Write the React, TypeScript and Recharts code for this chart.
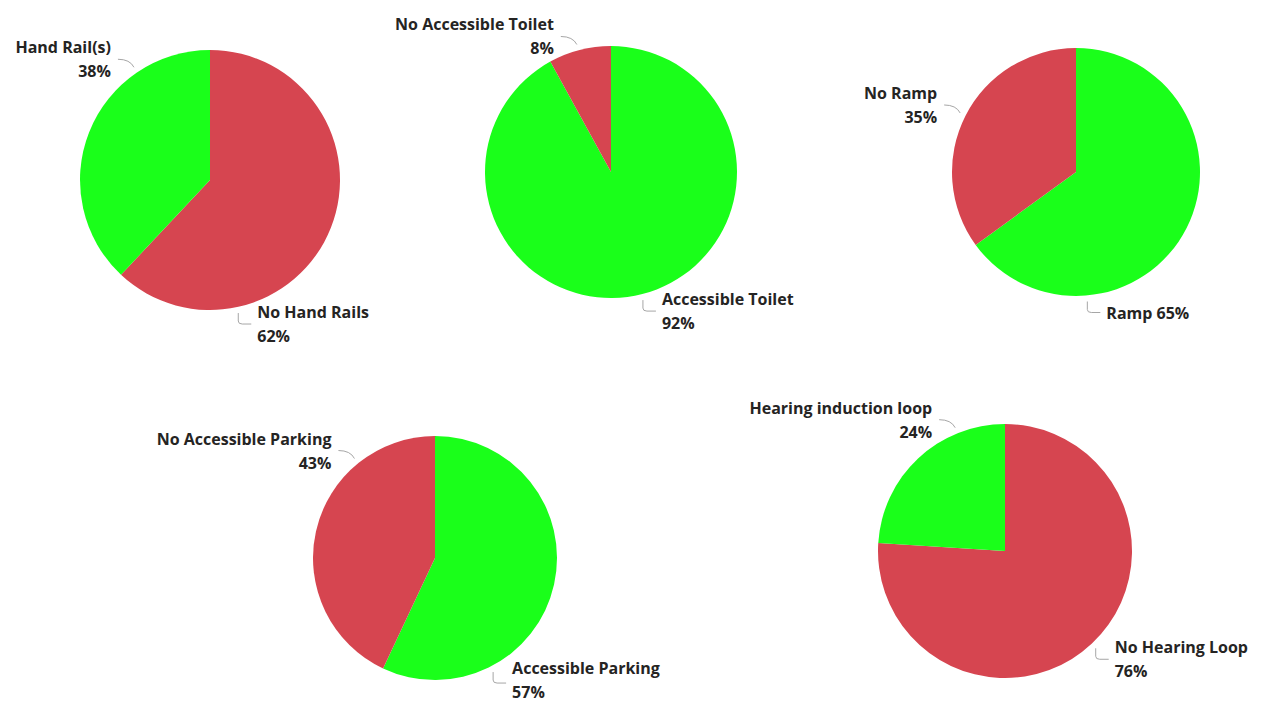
import React from "react";
import { Cell, Pie, PieChart } from "recharts";

// values
const handRailNames = ["No Hand Rails", "Hand Rail(s)"];
const handRailValues = [62, 38];

const toiletNames = ["Accessible Toilet", "No Accessible Toilet"];
const toiletValues = [92, 8];

const rampNames = ["Ramp", "No Ramp"];
const rampValues = [65, 35];

const parkingNames = ["Accessible Parking", "No Accessible Parking"];
const parkingValues = [57, 43];

const loopNames = ["No Hearing Loop", "Hearing induction loop"];
const loopValues = [76, 24];

const GREEN = "#1aff1a";
const RED = "#d64550";
const TEXT = "#252423";
const LINE = "#a6a6a6";
const W = 1274;
const H = 704;

type PieSpec = {
	key: string;
	names: string[];
	values: number[];
	colors: string[];
	cx: number;
	cy: number;
	r: number;
	labelAngles: number[]; // where the leader line leaves the pie (deg)
	wrap: boolean[];
};

const pies: PieSpec[] = [
	{
		key: "rail",
		names: handRailNames,
		values: handRailValues,
		colors: [RED, GREEN],
		cx: 210,
		cy: 180,
		r: 130,
		labelAngles: [-78, 124],
		wrap: [true, true],
	},
	{
		key: "toilet",
		names: toiletNames,
		values: toiletValues,
		colors: [GREEN, RED],
		cx: 611,
		cy: 172,
		r: 126,
		labelAngles: [-76, 105],
		wrap: [true, true],
	},
	{
		key: "ramp",
		names: rampNames,
		values: rampValues,
		colors: [GREEN, RED],
		cx: 1076,
		cy: 172,
		r: 124,
		labelAngles: [-85, 153],
		wrap: [false, true],
	},
	{
		key: "parking",
		names: parkingNames,
		values: parkingValues,
		colors: [GREEN, RED],
		cx: 435,
		cy: 558,
		r: 122,
		labelAngles: [-63, 129],
		wrap: [true, true],
	},
	{
		key: "loop",
		names: loopNames,
		values: loopValues,
		colors: [RED, GREEN],
		cx: 1005,
		cy: 551,
		r: 127,
		labelAngles: [-47, 112],
		wrap: [true, true],
	},
];

const makeLabel = (spec: PieSpec) => (props: any) => {
	const { cx, cy, outerRadius, index, percent, name } = props;
	const ang = (spec.labelAngles[index] * Math.PI) / 180;
	const ax = cx + (outerRadius + 6) * Math.cos(ang);
	const ay = cy - (outerRadius + 6) * Math.sin(ang);
	const pct = `${Math.round(percent * 100)}%`;
	const upperLeft = spec.labelAngles[index] > 0;
	const lines = spec.wrap[index] ? [name, pct] : [`${name} ${pct}`];

	let ex: number;
	let ey: number;
	let path: string;
	if (upperLeft) {
		ex = ax - 16;
		ey = ay - 8;
		path = `M${ax},${ay} Q${ax - 4},${ay - 8} ${ex},${ey}`;
	} else {
		ex = ax + 13;
		ey = ay + 11;
		path = `M${ax},${ay} L${ax},${ay + 8} Q${ax},${ey} ${ax + 4},${ey} L${ex},${ey}`;
	}
	const tx = upperLeft ? ex - 7 : ex + 6;
	const lineGap = 24;
	// keep the label block inside the chart
	const startY = Math.min(
		ey - ((lines.length - 1) * lineGap) / 2,
		H - 12 - (lines.length - 1) * lineGap,
	);

	return (
		<g key={`lbl-${spec.key}-${index}`}>
			<path d={path} stroke={LINE} strokeWidth={1} fill="none" />
			{lines.map((t, i) => (
				<text
					key={t}
					x={tx}
					y={startY + i * lineGap}
					textAnchor={upperLeft ? "end" : "start"}
					dominantBaseline="central"
					fill={TEXT}
					fontSize={16}
					fontWeight={700}
					fontFamily="'Open Sans', 'Noto Sans', sans-serif"
				>
					{t}
				</text>
			))}
		</g>
	);
};

export default function App() {
	return (
		<div
			style={{
				position: "absolute",
				left: 0,
				top: 0,
				width: W,
				height: H,
				background: "#ffffff",
			}}
		>
			<PieChart
				width={W}
				height={H}
				margin={{ top: 0, right: 0, bottom: 0, left: 0 }}
			>
				{pies.map((spec) => (
					<Pie
						key={spec.key}
						data={spec.names.map((n, i) => ({ name: n, value: spec.values[i] }))}
						dataKey="value"
						nameKey="name"
						cx={spec.cx}
						cy={spec.cy}
						outerRadius={spec.r}
						startAngle={90}
						endAngle={-270}
						stroke="none"
						label={makeLabel(spec)}
						labelLine={false}
						isAnimationActive={false}
					>
						{spec.names.map((n, i) => (
							<Cell key={n} fill={spec.colors[i]} />
						))}
					</Pie>
				))}
			</PieChart>
		</div>
	);
}
